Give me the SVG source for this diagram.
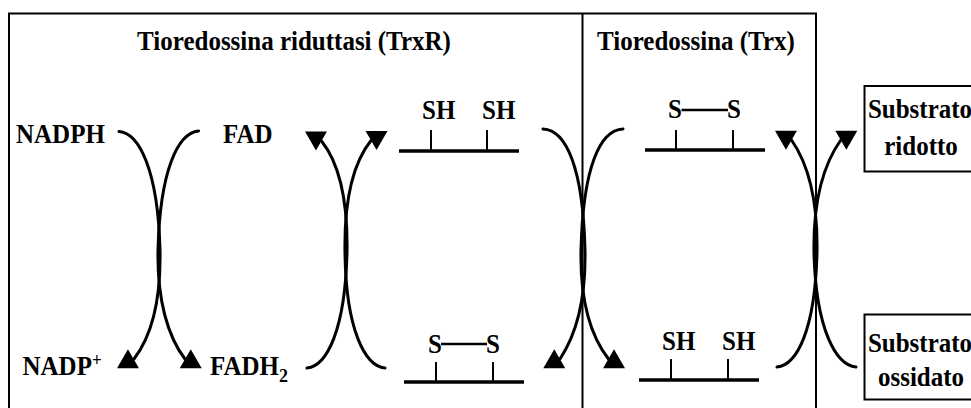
<svg xmlns="http://www.w3.org/2000/svg" xmlns:xlink="http://www.w3.org/1999/xlink" width="971" height="408" viewBox="0 0 971 408">
<style>
  text { font-family: "Liberation Serif", "Times New Roman", serif; font-weight: bold; font-size: 25px; fill: #000; }
  .frame { fill: none; stroke: #000; stroke-width: 2; }
  .curve { fill: none; stroke: #000; stroke-width: 3; stroke-linecap: round; }
  .back { stroke: #000; stroke-width: 3.3; }
  .tick { stroke: #000; stroke-width: 2; }
  .bond { stroke: #000; stroke-width: 2.6; }
  .box { fill: #fff; stroke: #000; stroke-width: 2; }
</style>
<defs>
  <path id="ah" d="M0,0 L-19,-11 L-19,11 Z" fill="#000"/>
</defs>
<rect width="971" height="408" fill="#fff"/>

<g id="frame">
  <path class="frame" d="M9,420 L9,13.5 L816,13.5 L816,420"/>
  <line class="frame" x1="582.5" y1="13.5" x2="582.5" y2="420"/>
</g>

<g id="title-trxr"><text transform="translate(294,50) scale(1,1.1)" text-anchor="middle">Tioredossina riduttasi (TrxR)</text></g>
<g id="title-trx"><text transform="translate(597,50) scale(1,1.1)">Tioredossina (Trx)</text></g>

<g id="nadph"><text transform="translate(16,143) scale(1,1.1)">NADPH</text></g>
<g id="fad"><text transform="translate(223,143) scale(1,1.1)">FAD</text></g>
<g id="nadp"><text transform="translate(22.5,375) scale(1,1.1)">NADP<tspan font-size="17" dy="-8">+</tspan></text></g>
<g id="fadh2"><text transform="translate(210,375) scale(1,1.1)">FADH<tspan font-size="18" dy="6">2</tspan></text></g>

<g id="trxr-reduced">
  <text transform="translate(422,119) scale(1,1.1)">SH</text>
  <text transform="translate(482,119) scale(1,1.1)">SH</text>
  <line class="tick" x1="431" y1="130" x2="431" y2="150"/>
  <line class="tick" x1="487" y1="130" x2="487" y2="150"/>
  <line class="back" x1="399" y1="151" x2="519" y2="151"/>
</g>

<g id="trxr-oxidized">
  <text transform="translate(428,353) scale(1,1.1)">S</text>
  <text transform="translate(486,353) scale(1,1.1)">S</text>
  <line class="bond" x1="441" y1="344" x2="487" y2="344"/>
  <line class="tick" x1="436" y1="362" x2="436" y2="381"/>
  <line class="tick" x1="493" y1="362" x2="493" y2="381"/>
  <line class="back" x1="404" y1="382" x2="524" y2="382"/>
</g>

<g id="trx-oxidized">
  <text transform="translate(668,118) scale(1,1.1)">S</text>
  <text transform="translate(727,118) scale(1,1.1)">S</text>
  <line class="bond" x1="681.5" y1="110" x2="728" y2="110"/>
  <line class="tick" x1="676" y1="130" x2="676" y2="149"/>
  <line class="tick" x1="733" y1="130" x2="733" y2="149"/>
  <line class="back" x1="645" y1="150" x2="765" y2="150"/>
</g>

<g id="trx-reduced">
  <text transform="translate(662,350) scale(1,1.1)">SH</text>
  <text transform="translate(722,350) scale(1,1.1)">SH</text>
  <line class="tick" x1="671" y1="359" x2="671" y2="379"/>
  <line class="tick" x1="728" y1="359" x2="728" y2="379"/>
  <line class="back" x1="639" y1="380" x2="759" y2="380"/>
</g>

<g id="substrato-ridotto">
  <rect class="box" x="864.5" y="86" width="120" height="85.5"/>
  <text transform="translate(920,118) scale(1,1.1)" text-anchor="middle">Substrato</text>
  <text transform="translate(921,155) scale(1,1.1)" text-anchor="middle">ridotto</text>
</g>

<g id="substrato-ossidato">
  <rect class="box" x="864.5" y="314.5" width="120" height="85"/>
  <text transform="translate(920,352) scale(1,1.1)" text-anchor="middle">Substrato</text>
  <text transform="translate(921,386) scale(1,1.1)" text-anchor="middle">ossidato</text>
</g>

<g id="connectors">
  <path class="curve" d="M119,131.5 C139,133 158,170 160,250 C161,300 151,337 134,359"/>
  <path class="curve" d="M198.5,131 C178,133 160,170 158,250 C157,300 168,337 185,359"/>
  <path class="curve" d="M307,368 C327,366 345,330 347,253 C348,200 339,163 321.5,141"/>
  <path class="curve" d="M385,368 C365,366 346,330 345,253 C344,200 353,163 371,140.5"/>
  <path class="curve" d="M543,129 C566,130 583,167 585,250 C586,300 576,335 560,359"/>
  <path class="curve" d="M623,129 C600,130 583,167 581,250 C580,300 590,335 608.5,359"/>
  <path class="curve" d="M777,367 C797,365 815,330 817,253 C818,200 809,165 791.5,140"/>
  <path class="curve" d="M856,367 C836,365 816,330 814,253 C813,200 823,165 840.8,140"/>
  <use xlink:href="#ah" transform="translate(117,368.3) rotate(150)"/>
  <use xlink:href="#ah" transform="translate(201.7,368.3) rotate(30)"/>
  <use xlink:href="#ah" transform="translate(305,131.5) rotate(-150)"/>
  <use xlink:href="#ah" transform="translate(387.5,131) rotate(-30)"/>
  <use xlink:href="#ah" transform="translate(543.3,368.3) rotate(150)"/>
  <use xlink:href="#ah" transform="translate(625,368.3) rotate(30)"/>
  <use xlink:href="#ah" transform="translate(775,130.7) rotate(-150)"/>
  <use xlink:href="#ah" transform="translate(857.3,130.7) rotate(-30)"/>
</g>
</svg>
